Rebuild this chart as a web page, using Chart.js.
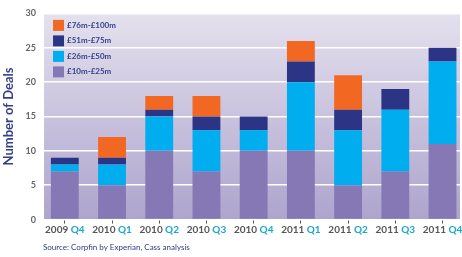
<!DOCTYPE html>
<html>
<head>
<meta charset="utf-8">
<script src="https://cdn.jsdelivr.net/npm/chart.js@4.4.1/dist/chart.umd.min.js"></script>
<style>
  html, body { margin: 0; padding: 0; background: #fff; }
  #wrap { width: 462px; height: 257px; }
</style>
</head>
<body>
<div id="wrap"><canvas id="deals-chart"></canvas></div>
<script>
const years = ['2009', '2010', '2010', '2010', '2010', '2011', '2011', '2011', '2011'];
const quarters = ['Q4', 'Q1', 'Q2', 'Q3', 'Q4', 'Q1', 'Q2', 'Q3', 'Q4'];
const band10to25 = [7, 5, 10, 7, 10, 10, 5, 7, 11];
const band26to50 = [1, 3, 5, 6, 3, 10, 8, 9, 12];
const band51to75 = [1, 1, 1, 2, 2, 3, 3, 3, 2];
const band76to100 = [0, 3, 2, 3, 0, 3, 5, 0, 0];
const seriesLabels = ['£10m-£25m', '£26m-£50m', '£51m-£75m', '£76m-£100m'];
const seriesColors = ['#8578b5', '#00adef', '#2c3585', '#f26822'];
const sourceNote = 'Source: Corpfin by Experian, Cass analysis';

const FONT = 'Lato, "Open Sans", sans-serif';

const toPoints = (arr) => arr.map((v, i) => ({ x: i, y: v }));

// plot background: lavender gradient
const plotBackground = {
  id: 'plotBackground',
  beforeDraw(chart) {
    const { ctx, chartArea: a } = chart;
    const g = ctx.createLinearGradient(0, a.top, 0, a.bottom);
    g.addColorStop(0, '#e4e1ee');
    g.addColorStop(1, '#aea4cd');
    ctx.save();
    ctx.fillStyle = g;
    ctx.fillRect(a.left, a.top, a.right - a.left, a.bottom - a.top);
    ctx.restore();
  },
};

// legend inside the plot, top-left, top series first
const insideLegend = {
  id: 'insideLegend',
  afterDatasetsDraw(chart) {
    const { ctx, chartArea: a } = chart;
    const sets = chart.data.datasets.slice().reverse();
    ctx.save();
    ctx.font = `bold 8px ${FONT}`;
    ctx.textBaseline = 'middle';
    sets.forEach((ds, row) => {
      const y = a.top + 12 + row * 15.5;
      ctx.fillStyle = ds.backgroundColor;
      ctx.fillRect(a.left + 9, y - 5.5, 11, 11);
      ctx.fillStyle = '#34418a';
      ctx.fillText(ds.label, a.left + 23, y);
    });
    ctx.restore();
  },
};

// two-colour x labels (year grey, quarter teal) and the source line
const xLabels = {
  id: 'xLabels',
  afterDraw(chart) {
    const { ctx, chartArea: a } = chart;
    const xs = chart.scales.x;
    ctx.save();
    ctx.font = `bold 10px ${FONT}`;
    ctx.textBaseline = 'middle';
    years.forEach((yr, i) => {
      const q = quarters[i];
      const cx = xs.getPixelForValue(i);
      const w1 = ctx.measureText(yr + ' ').width;
      const w2 = ctx.measureText(q).width;
      const x0 = cx - (w1 + w2) / 2;
      ctx.fillStyle = '#555555';
      ctx.fillText(yr + ' ', x0, a.bottom + 10);
      ctx.fillStyle = '#1ba6d0';
      ctx.fillText(q, x0 + w1, a.bottom + 10);
    });
    ctx.font = `8px ${FONT}`;
    ctx.fillStyle = '#2b3a80';
    ctx.fillText(sourceNote, 43, a.bottom + 28);
    ctx.restore();
  },
};

const datasets = [band10to25, band26to50, band51to75, band76to100].map((vals, i) => ({
  label: seriesLabels[i],
  data: toPoints(vals),
  backgroundColor: seriesColors[i],
  borderWidth: 0,
  categoryPercentage: 1,
  barPercentage: 0.59,
}));

new Chart(document.getElementById('deals-chart'), {
  type: 'bar',
  data: { datasets },
  plugins: [plotBackground, insideLegend, xLabels],
  options: {
    responsive: true,
    maintainAspectRatio: false,
    animation: false,
    layout: { padding: { left: 1, right: 2, top: 9, bottom: 20 } },
    plugins: {
      legend: { display: false },
      tooltip: { enabled: false },
    },
    scales: {
      x: {
        type: 'linear',
        stacked: true,
        offset: false,
        min: -0.44,
        max: 8.37,
        afterBuildTicks(scale) {
          scale.ticks = quarters.map((q, i) => ({ value: i }));
        },
        ticks: {
          color: 'rgba(0,0,0,0)',
          font: { size: 9.5, family: FONT, weight: 'bold' },
          padding: 1,
          callback: () => '',
        },
        grid: {
          offset: false,
          drawOnChartArea: false,
          drawTicks: true,
          tickLength: 4,
          color: '#555555',
        },
        border: { display: false },
      },
      y: {
        stacked: true,
        min: 0,
        max: 30,
        ticks: {
          stepSize: 5,
          color: '#666666',
          font: { size: 9, family: FONT, weight: 'bold' },
          padding: 8,
        },
        grid: {
          color: '#ffffff',
          lineWidth: 1.5,
          drawTicks: false,
        },
        border: { display: false },
        title: {
          display: true,
          text: 'Number of Deals',
          color: '#34418a',
          font: { size: 13, family: FONT, weight: 'bold' },
          padding: { top: 0, bottom: 1 },
        },
      },
    },
  },
});
</script>
</body>
</html>
